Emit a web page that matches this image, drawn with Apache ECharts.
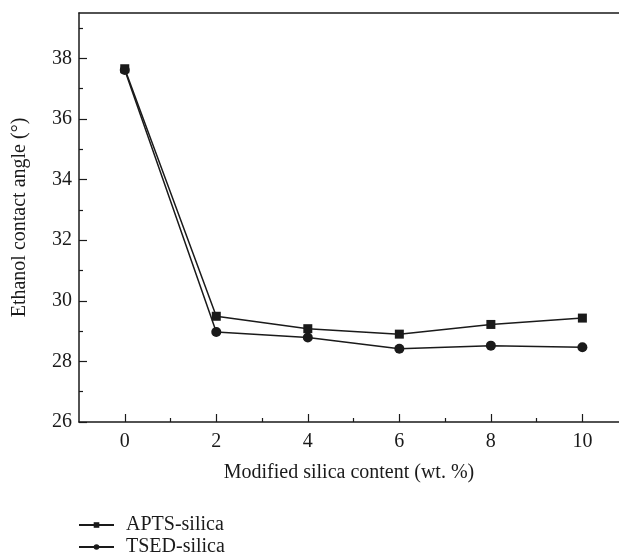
<!DOCTYPE html>
<html>
<head>
<meta charset="utf-8">
<script src="https://cdn.jsdelivr.net/npm/echarts@6/dist/echarts.min.js"></script>
<style>
html, body { margin: 0; padding: 0; background: #fff; }
#chart { width: 619px; height: 554px; }
</style>
</head>
<body>
<div id="chart"></div>
<script>
// silica content (wt. %)
var contents = [0, 2, 4, 6, 8, 10];
var aptsSilica = [37.66, 29.49, 29.08, 28.90, 29.22, 29.43];
var tsedSilica = [37.62, 28.97, 28.79, 28.42, 28.52, 28.47];

var xMajorTicks = [0, 2, 4, 6, 8, 10];
var xMinorTicks = [1, 3, 5, 7, 9];
var yMajorTicks = [26, 28, 30, 32, 34, 36, 38];
var yMinorTicks = [27, 29, 31, 33, 35, 37, 39];

var ink = "#1a1a1a";
var serif = "Liberation Serif";
var fontSize = 20;

function pairs(xs, ys) {
    return xs.map(function (x, i) { return [x, ys[i]]; });
}

// one legend per row so they stack like the original
function legendRow(name, top) {
    return {
        orient: "vertical",
        left: 78,
        top: top,
        padding: 0,
        itemWidth: 35,
        itemHeight: 7,
        textStyle: { fontFamily: serif, fontSize: fontSize, color: ink, padding: [0, 0, 0, 7] },
        data: [name]
    };
}

var chart = echarts.init(document.getElementById("chart"));
chart.setOption({
    animation: false,
    backgroundColor: "#fff",
    grid: { left: 79, top: 13, right: 0, bottom: 132 },
    legend: [
        legendRow("APTS-silica", 515),
        legendRow("TSED-silica", 537)
    ],
    xAxis: [
        {
            type: "value",
            position: "bottom",
            min: -1,
            max: 10.8,
            name: "Modified silica content (wt. %)",
            nameLocation: "middle",
            nameGap: 41,
            nameTextStyle: { fontFamily: serif, fontSize: fontSize, color: ink },
            axisLine: { onZero: false, lineStyle: { color: ink, width: 1.5 } },
            axisTick: { inside: true, length: 8, customValues: xMajorTicks, lineStyle: { color: ink, width: 1.2 } },
            axisLabel: { customValues: xMajorTicks, margin: 10, fontFamily: serif, fontSize: fontSize, color: ink },
            splitLine: { show: false }
        },
        {
            type: "value",
            position: "bottom",
            min: -1,
            max: 10.8,
            axisLine: { show: false, onZero: false },
            axisTick: { inside: true, length: 4, customValues: xMinorTicks, lineStyle: { color: ink, width: 1.2 } },
            axisLabel: { show: false },
            splitLine: { show: false }
        },
        {
            type: "value",
            position: "top",
            min: -1,
            max: 10.8,
            axisLine: { onZero: false, lineStyle: { color: ink, width: 1.5 } },
            axisTick: { show: false },
            axisLabel: { show: false },
            splitLine: { show: false }
        }
    ],
    yAxis: [
        {
            type: "value",
            position: "left",
            min: 26,
            max: 39.5,
            name: "Ethanol contact angle (°)",
            nameLocation: "middle",
            nameGap: 49,
            nameTextStyle: { fontFamily: serif, fontSize: fontSize, color: ink },
            axisLine: { onZero: false, lineStyle: { color: ink, width: 1.5 } },
            axisTick: { inside: true, length: 8, customValues: yMajorTicks, lineStyle: { color: ink, width: 1.2 } },
            axisLabel: { customValues: yMajorTicks, margin: 7, fontFamily: serif, fontSize: fontSize, color: ink },
            splitLine: { show: false }
        },
        {
            type: "value",
            position: "left",
            min: 26,
            max: 39.5,
            axisLine: { show: false, onZero: false },
            axisTick: { inside: true, length: 4, customValues: yMinorTicks, lineStyle: { color: ink, width: 1.2 } },
            axisLabel: { show: false },
            splitLine: { show: false }
        }
    ],
    series: [
        {
            name: "APTS-silica",
            type: "line",
            data: pairs(contents, aptsSilica),
            symbol: "rect",
            symbolSize: 9,
            lineStyle: { color: ink, width: 1.5 },
            itemStyle: { color: ink }
        },
        {
            name: "TSED-silica",
            type: "line",
            data: pairs(contents, tsedSilica),
            symbol: "circle",
            symbolSize: 10,
            lineStyle: { color: ink, width: 1.5 },
            itemStyle: { color: ink }
        }
    ]
});
</script>
</body>
</html>
